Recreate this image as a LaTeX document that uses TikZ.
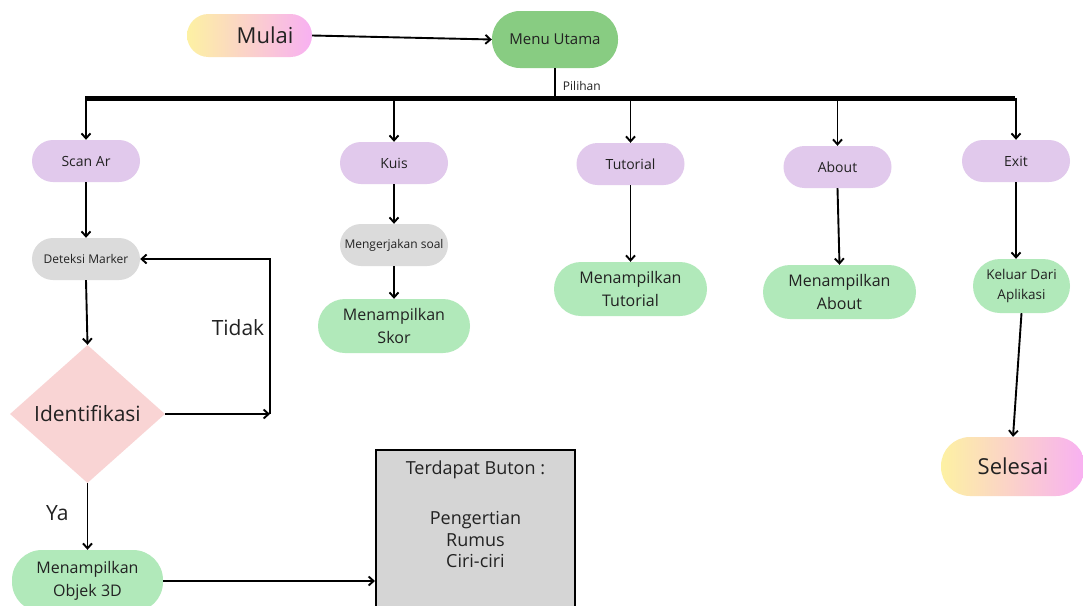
\documentclass[tikz,border=0pt]{standalone}
\usepackage{fontspec}
\setmainfont{Open Sans}
\usetikzlibrary{shapes.geometric,arrows.meta}
\definecolor{purp}{HTML}{E1C9EC}
\definecolor{lgreen}{HTML}{B1E9BA}
\definecolor{mgreen}{HTML}{88CC82}
\definecolor{lgray}{HTML}{DBDBDB}
\definecolor{pinkd}{HTML}{F9D4D4}
\definecolor{boxgray}{HTML}{D5D5D5}
\definecolor{gyel}{HTML}{FDF1A3}
\definecolor{gpink}{HTML}{F8B0F2}
\definecolor{txt}{HTML}{222222}
\begin{document}
\begin{tikzpicture}[x=1pt,y=-1pt,
  base/.style={rectangle, inner sep=0pt, align=center, text=txt},
  opt/.style={base, fill=purp, minimum width=108pt, minimum height=42pt, rounded corners=21pt, font=\fontsize{14}{17}\selectfont},
  proc/.style={base, fill=lgray, minimum width=108pt, minimum height=42pt, rounded corners=21pt, font=\fontsize{12}{15}\selectfont},
  res/.style={base, fill=lgreen, minimum width=153pt, minimum height=54pt, rounded corners=27pt, font=\fontsize{16}{23}\selectfont},
  term/.style={base, left color=gyel, right color=gpink, font=\fontsize{22}{26}\selectfont},
  arr/.style={line width=1.9pt, -{Straight Barb[length=5pt,width=9pt,line width=1.9pt]}},
  ln/.style={line width=1.9pt},
  lbl/.style={inner sep=0pt, text=txt}
]
\useasboundingbox (0,0) rectangle (1083,605);
\fill[white] (0,0) rectangle (1083,605);

% top
\node[term, minimum width=125pt, minimum height=43pt, rounded corners=21.5pt] (mulai) at (249.5,35.5) {\hspace*{31pt}Mulai};
\node[base, fill=mgreen, minimum width=126pt, minimum height=57pt, rounded corners=28pt, font=\fontsize{15}{18}\selectfont] (menu) at (555,39.5) {Menu Utama};
\draw[arr] (mulai.east) -- (menu.west);

\coordinate (barL) at (85,98);
\coordinate (barR) at (1015,98);
\draw[ln] (menu.south) -- (menu.south |- barL) node[lbl, pos=0.6, right=7pt, font=\fontsize{12}{14}\selectfont] {Pilihan};
\draw[line width=5pt] (barL) -- (barR);

% options
\node[opt] (scan) at (86,161) {Scan Ar};
\node[opt] (kuis) at (394,163) {Kuis};
\node[opt] (tut) at (630.5,164) {Tutorial};
\node[opt] (about) at (837.5,167) {About};
\node[opt] (exit) at (1016,161) {Exit};
\foreach \n in {scan,kuis,tut,about,exit}
  \draw[arr] (\n.north |- barL) -- (\n.north);

% scan branch
\node[proc] (det) at (86,259) {Deteksi Marker};
\node[base, shape=diamond, fill=pinkd, minimum width=155pt, minimum height=138pt, aspect=1.12, font=\fontsize{21}{25}\selectfont] (ident) at (87.5,414) {Identifikasi};
\node[res, minimum width=151pt, minimum height=62pt, rounded corners=30pt] (obj) at (87.5,581) {Menampilkan\\Objek 3D};
\draw[arr] (scan.south) -- (det.north);
\draw[arr] (det.south) -- (ident.north);
\coordinate (loopB) at (270,414);
\coordinate (loopT) at (270,259);
\draw[arr] (ident.east) -- (loopB);
\draw[arr] (loopB) -- (loopT) -- (det.east);
\node[lbl, font=\fontsize{21}{25}\selectfont] (tidak) at (238,328) {Tidak};
\draw[arr] (ident.south) -- (obj.north) node[lbl, pos=0.45, left=18pt, font=\fontsize{21}{25}\selectfont] {Ya};

\node[draw, line width=1.9pt, fill=boxgray, minimum width=199pt, minimum height=175pt, anchor=north west, inner sep=0pt] (box) at (375,449) {};
\node[lbl, anchor=north, align=center, font=\fontsize{18}{21.5}\selectfont, yshift=-12pt] (boxtxt) at (box.north) {Terdapat Buton :\\[28.5pt]Pengertian\\Rumus\\Ciri-ciri};
\draw[arr] (obj.east) -- (obj.east -| box.west);

% kuis branch
\node[proc] (soal) at (394,245) {Mengerjakan soal};
\node[res, minimum width=152pt] (skor) at (394,326) {Menampilkan\\Skor};
\draw[arr] (kuis.south) -- (soal.north);
\draw[arr] (soal.south) -- (skor.north);

% tutorial
\node[res] (mtut) at (630.5,289) {Menampilkan\\Tutorial};
\draw[arr] (tut.south) -- (mtut.north);

% about
\node[res] (mabout) at (839.5,292) {Menampilkan\\About};
\draw[arr] (about.south) -- (mabout.north);

% exit
\node[res, fill=lgreen, minimum width=97pt, font=\fontsize{13.5}{20}\selectfont] (keluar) at (1021.5,286) {Keluar Dari\\Aplikasi};
\node[term, minimum width=144pt, minimum height=59pt, rounded corners=29pt] (selesai) at (1013,466.5) {Selesai};
\draw[arr] (exit.south) -- (exit.south |- keluar.north);
\draw[arr] (keluar.south) -- (selesai.north);
\end{tikzpicture}
\end{document}
